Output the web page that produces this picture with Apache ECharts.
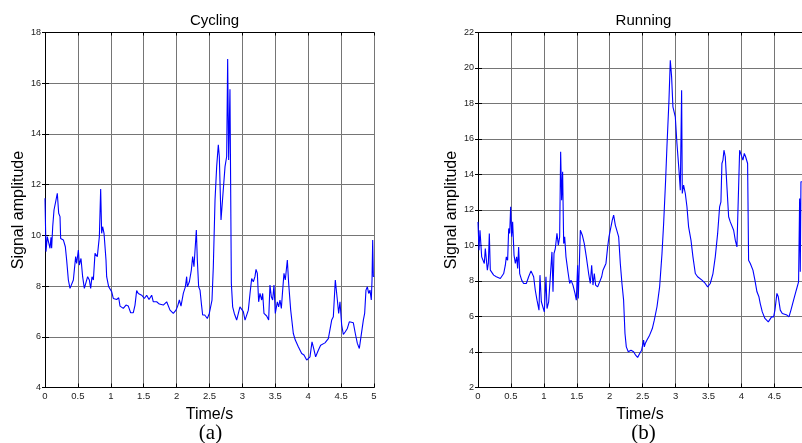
<!DOCTYPE html>
<html>
<head>
<meta charset="utf-8">
<script src="https://cdn.jsdelivr.net/npm/echarts@6/dist/echarts.min.js"></script>
<style>
html,body{margin:0;padding:0;background:#fff;}
#c{width:802px;height:443px;}
</style>
</head>
<body>
<div id="c"></div>
<script>
// ---- data ----
const titles = ['Cycling', 'Running'];
const panelLabels = ['(a)', '(b)'];
const xLabel = 'Time/s';
const yLabel = 'Signal amplitude';

const xTicksCycling = [0, 0.5, 1, 1.5, 2, 2.5, 3, 3.5, 4, 4.5, 5];
const yTicksCycling = [4, 6, 8, 10, 12, 14, 16, 18];
const xTicksRunning = [0, 0.5, 1, 1.5, 2, 2.5, 3, 3.5, 4, 4.5];
const yTicksRunning = [2, 4, 6, 8, 10, 12, 14, 16, 18, 20, 22];
const xMaxRunning = 4.92;

const tCycling = [0,0.015,0.035,0.056,0.076,0.091,0.101,0.117,0.137,0.167,0.187,0.208,0.228,0.238,0.279,0.309,0.329,0.355,0.380,0.405,
0.431,0.466,0.481,0.507,0.522,0.547,0.572,0.598,0.623,0.648,0.674,0.694,0.714,0.735,0.760,0.795,0.826,0.846,0.861,0.876,
0.897,0.927,0.937,0.968,1.013,1.038,1.089,1.120,1.140,1.190,1.231,1.266,1.302,1.342,1.368,1.393,1.418,1.469,1.510,1.545,
1.581,1.621,1.646,1.697,1.738,1.798,1.849,1.900,1.950,1.991,2.016,2.042,2.067,2.102,2.133,2.153,2.163,2.194,2.224,2.244,
2.264,2.300,2.315,2.335,2.356,2.376,2.396,2.427,2.467,2.497,2.538,2.558,2.584,2.609,2.634,2.649,2.675,2.700,2.736,2.761,
2.776,2.791,2.811,2.832,2.852,2.877,2.913,2.938,2.963,2.989,3.014,3.040,3.065,3.090,3.116,3.141,3.166,3.191,3.207,3.227,
3.247,3.267,3.293,3.308,3.328,3.369,3.399,3.419,3.440,3.460,3.480,3.500,3.531,3.551,3.571,3.592,3.612,3.632,3.652,3.683,
3.703,3.734,3.774,3.804,3.850,3.901,3.936,3.977,4.002,4.027,4.058,4.083,4.113,4.154,4.189,4.255,4.306,4.357,4.382,4.412,
4.443,4.463,4.483,4.509,4.534,4.564,4.595,4.625,4.650,4.686,4.716,4.747,4.777,4.807,4.838,4.858,4.878,4.899,4.919,4.939,
4.959,4.970,4.980,4.990,5.000];
const vCycling = [11.46,9.36,9.95,9.92,9.49,9.92,9.49,10.34,11.0,11.39,11.66,10.87,10.74,9.88,9.82,9.55,9.03,8.24,7.91,7.91,
8.24,9.16,8.89,9.42,8.83,9.09,8.37,7.91,7.91,8.37,8.24,7.91,8.37,8.24,9.29,9.16,9.95,11.83,10.08,10.34,
10.08,9.03,8.37,7.97,7.78,7.51,7.47,7.54,7.21,7.12,7.25,7.21,6.95,6.95,7.25,7.82,7.71,7.64,7.51,7.64,
7.47,7.64,7.38,7.38,7.29,7.25,7.38,7.05,6.92,7.05,7.21,7.45,7.21,7.71,7.97,8.37,7.97,8.17,8.63,9.16,
8.76,10.21,9.03,7.97,7.84,7.32,6.86,6.86,6.72,6.92,7.45,8.76,11.39,12.71,13.57,13.11,10.61,11.47,12.71,13.11,
16.95,12.97,15.76,8.11,7.18,6.92,6.66,6.66,7.18,7.25,6.99,6.66,6.72,7.05,7.71,8.30,8.17,8.37,8.66,8.50,
7.38,7.71,7.45,7.71,6.92,6.82,6.66,8.04,7.58,7.45,8.04,6.92,7.38,7.18,7.45,7.12,7.84,8.50,8.24,9.03,
8.11,7.05,6.13,5.87,5.61,5.34,5.28,5.08,5.04,5.21,5.80,5.54,5.21,5.47,5.67,5.76,5.93,6.66,6.79,8.24,
7.45,6.92,7.38,6.46,6.09,6.20,6.33,6.59,6.55,6.55,6.13,5.74,5.54,5.61,6.66,6.92,7.84,7.97,7.71,7.84,
7.45,8.24,9.82,8.37,8.40];

const tRunning = [0,0.015,0.030,0.046,0.056,0.076,0.096,0.111,0.127,0.142,0.157,0.172,0.187,0.213,0.238,0.263,0.278,0.299,0.339,0.390,
0.415,0.430,0.450,0.466,0.481,0.496,0.511,0.526,0.547,0.567,0.587,0.602,0.617,0.633,0.663,0.693,0.734,0.769,0.805,0.845,
0.870,0.896,0.926,0.941,0.962,0.987,1.007,1.032,1.048,1.073,1.098,1.123,1.139,1.154,1.174,1.199,1.220,1.240,1.255,1.270,
1.285,1.301,1.316,1.336,1.366,1.392,1.412,1.442,1.473,1.493,1.513,1.523,1.538,1.554,1.584,1.614,1.645,1.680,1.705,1.726,
1.746,1.766,1.786,1.817,1.847,1.878,1.898,1.918,1.943,1.969,1.989,2.019,2.039,2.060,2.085,2.110,2.136,2.161,2.186,2.211,
2.232,2.252,2.282,2.323,2.363,2.394,2.424,2.455,2.485,2.515,2.525,2.540,2.566,2.606,2.647,2.677,2.718,2.758,2.794,2.819,
2.849,2.869,2.885,2.900,2.920,2.940,2.960,2.996,3.021,3.052,3.072,3.092,3.102,3.122,3.148,3.173,3.198,3.234,3.264,3.300,
3.335,3.401,3.451,3.487,3.527,3.568,3.603,3.639,3.669,3.689,3.704,3.720,3.735,3.755,3.780,3.806,3.831,3.856,3.882,3.907,
3.932,3.962,3.973,3.993,4.023,4.044,4.064,4.094,4.109,4.135,4.175,4.205,4.236,4.266,4.286,4.317,4.357,4.408,4.438,4.458,
4.489,4.509,4.524,4.539,4.560,4.590,4.621,4.651,4.691,4.722,4.752,4.792,4.833,4.868,4.884,4.894,4.904,4.919];
const vRunning = [11.33,9.74,10.86,10.86,9.36,9.27,8.99,9.83,9.74,8.61,8.99,10.68,8.61,8.52,8.33,8.42,8.24,8.14,8.14,8.42,
8.89,9.36,9.17,10.96,10.68,12.18,10.49,11.33,9.46,8.99,9.36,8.70,9.92,8.42,8.05,7.86,7.86,8.24,8.57,8.24,
7.48,6.92,6.36,8.33,6.83,6.73,6.26,8.24,6.45,6.83,6.92,9.64,7.39,9.55,9.83,10.68,10.02,10.49,15.28,12.55,
14.15,10.11,10.49,9.36,8.52,7.86,8.05,7.77,7.30,6.92,8.89,7.01,7.01,10.86,10.58,10.11,9.36,8.42,7.86,8.89,
7.77,8.42,7.77,7.67,7.77,8.24,8.61,8.52,8.99,9.92,10.49,10.58,11.43,11.71,11.15,11.05,10.49,8.99,7.86,6.92,
5.04,4.29,4.01,4.10,4.01,3.82,3.69,3.92,4.10,4.67,4.29,4.48,4.67,4.95,5.32,5.79,6.55,7.67,9.55,11.24,
13.68,15.56,15.56,18.19,20.44,19.50,17.81,17.25,15.75,14.24,13.12,18.75,12.93,13.40,12.93,12.18,11.05,10.30,9.36,8.42,
8.24,8.05,7.86,7.67,7.86,8.42,9.36,10.68,12.18,12.46,14.62,14.81,15.37,15.00,13.31,11.62,11.33,11.24,10.86,10.30,
9.92,9.83,15.37,15.28,14.81,15.19,15.00,14.62,9.17,8.99,8.61,8.05,7.39,7.11,6.73,6.26,5.89,5.70,5.61,5.98,
5.98,6.36,6.26,7.30,7.11,6.36,6.17,6.26,6.08,5.98,6.36,6.92,7.48,7.95,12.65,8.52,13.59,13.59];

// ---- chart ----
const chart = echarts.init(document.getElementById('c'), null, {renderer: 'canvas'});
const FONT = 'Arial, "Liberation Sans", sans-serif';
const zip = (t, v) => t.map((x, i) => [x, v[i]]);

const grids = [
  {left: 45, top: 32.5, width: 329, height: 355},
  {left: 478, top: 32.5, width: 325, height: 355}
];
const cfg = [
  {xt: xTicksCycling, yt: yTicksCycling, xmax: xTicksCycling[xTicksCycling.length - 1]},
  {xt: xTicksRunning, yt: yTicksRunning, xmax: xMaxRunning}
];

const xAxis = [], yAxis = [];
cfg.forEach((c, g) => {
  const xmin = c.xt[0], xint = c.xt[1] - c.xt[0];
  const ymin = c.yt[0], ymax = c.yt[c.yt.length - 1], yint = c.yt[1] - c.yt[0];
  xAxis.push({
    type: 'value', gridIndex: g, position: 'bottom', min: xmin, max: c.xmax, interval: xint,
    name: xLabel, nameLocation: 'middle', nameGap: 15,
    nameTextStyle: {fontFamily: FONT, fontSize: 16, color: '#000'},
    axisLine: {show: true, lineStyle: {color: '#000', width: 1}},
    axisTick: {show: true, inside: true, length: 4, lineStyle: {color: '#000'}},
    axisLabel: {fontFamily: FONT, fontSize: 9.5, color: '#222', margin: 4, showMaxLabel: g === 0},
    splitLine: {show: true, lineStyle: {color: '#757575', width: 1}}
  });
  xAxis.push({
    type: 'value', gridIndex: g, position: 'top', min: xmin, max: c.xmax, interval: xint,
    axisLine: {show: true, lineStyle: {color: '#000', width: 1}},
    axisTick: {show: true, inside: true, length: 3, lineStyle: {color: '#000'}},
    axisLabel: {show: false}, splitLine: {show: false}
  });
  yAxis.push({
    type: 'value', gridIndex: g, position: 'left', min: ymin, max: ymax, interval: yint,
    name: yLabel, nameLocation: 'middle', nameGap: 16,
    nameTextStyle: {fontFamily: FONT, fontSize: 16, color: '#000'},
    axisLine: {show: true, lineStyle: {color: '#000', width: 1}},
    axisTick: {show: true, inside: true, length: 4, lineStyle: {color: '#000'}},
    axisLabel: {fontFamily: FONT, fontSize: 9, color: '#222', margin: 4},
    splitLine: {show: true, lineStyle: {color: '#757575', width: 1}}
  });
  yAxis.push({
    type: 'value', gridIndex: g, position: 'right', min: ymin, max: ymax, interval: yint,
    axisLine: {show: true, lineStyle: {color: '#000', width: 1}},
    axisTick: {show: true, inside: true, length: 3, lineStyle: {color: '#000'}},
    axisLabel: {show: false}, splitLine: {show: false}
  });
});

const titleArr = [];
titles.forEach((t, g) => {
  titleArr.push({
    text: t, left: grids[g].left + grids[g].width / 2 - (g === 1 ? 2 : 0), top: 8, textAlign: 'center',
    textStyle: {fontFamily: FONT, fontSize: 15, fontWeight: 'normal', color: '#000'}
  });
  titleArr.push({
    text: panelLabels[g], left: grids[g].left + grids[g].width / 2 - (g === 1 ? 2 : 4), top: 418, textAlign: 'center',
    textStyle: {fontFamily: '"Liberation Serif", "Times New Roman", serif', fontSize: 21, fontWeight: 'normal', color: '#000'}
  });
});

chart.setOption({
  animation: false,
  backgroundColor: '#fff',
  title: titleArr,
  grid: grids,
  xAxis: xAxis,
  yAxis: yAxis,
  series: [
    {type: 'line', xAxisIndex: 0, yAxisIndex: 0, data: zip(tCycling, vCycling), showSymbol: false,
     lineStyle: {color: '#0000ff', width: 1.1}, clip: true},
    {type: 'line', xAxisIndex: 2, yAxisIndex: 2, data: zip(tRunning, vRunning), showSymbol: false,
     lineStyle: {color: '#0000ff', width: 1.1}, clip: true}
  ]
});
</script>
</body>
</html>
